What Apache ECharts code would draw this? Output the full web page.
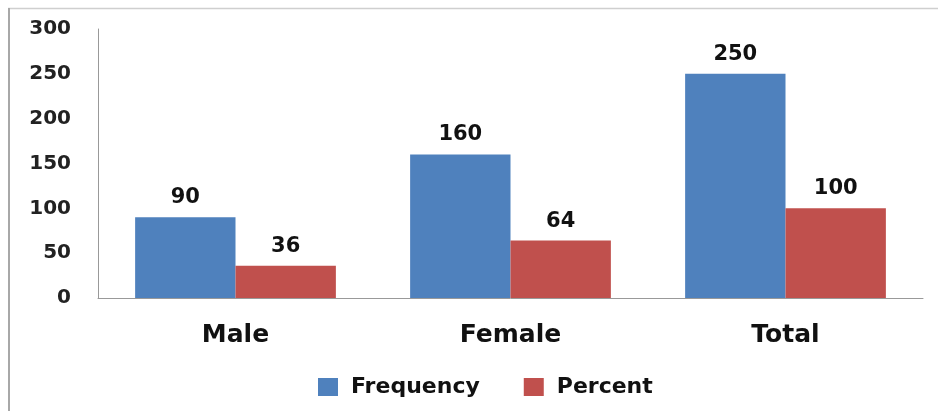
<!DOCTYPE html>
<html>
<head>
<meta charset="utf-8">
<script src="https://cdn.jsdelivr.net/npm/echarts@6/dist/echarts.min.js"></script>
<style>
  html, body { margin: 0; padding: 0; background: #fff; }
  #chart { width: 938px; height: 411px; }
</style>
</head>
<body>
<div id="chart"></div>
<script>
// Gender breakdown: counts and percentages
const categories = ['Male', 'Female', 'Total'];
const frequency = [90, 160, 250];
const percent = [36, 64, 100];
const seriesNames = ['Frequency', 'Percent'];

const font = 'DejaVu Sans';
const chart = echarts.init(document.getElementById('chart'));

const labelStyle = {
  show: true,
  position: 'top',
  distance: 9,
  fontFamily: font,
  fontWeight: 'bold',
  fontSize: 21,
  color: '#111'
};

chart.setOption({
  animation: false,
  backgroundColor: '#fff',
  graphic: [
    { type: 'line', shape: { x1: 8, y1: 8.5, x2: 938, y2: 8.5 }, style: { stroke: '#cfcfcf', lineWidth: 1.5 } },
    { type: 'line', shape: { x1: 9, y1: 8, x2: 9, y2: 411 }, style: { stroke: '#a8a8a8', lineWidth: 2 } }
  ],
  grid: { left: 98, right: 15, top: 29, bottom: 113 },
  legend: {
    data: seriesNames,
    left: 313,
    top: 371,
    itemWidth: 20,
    itemHeight: 18,
    itemGap: 44,
    icon: 'rect',
    textStyle: { fontFamily: font, fontWeight: 'bold', fontSize: 22, color: '#111', padding: [0, 0, 0, 8] }
  },
  xAxis: {
    type: 'category',
    data: categories,
    axisLine: { lineStyle: { color: '#999', width: 1 } },
    axisTick: { show: false },
    axisLabel: { fontFamily: font, fontWeight: 'bold', fontSize: 25, color: '#111', margin: 25 }
  },
  yAxis: {
    type: 'value',
    min: 0,
    max: 300,
    interval: 50,
    splitLine: { show: false },
    axisLine: { show: true, lineStyle: { color: '#999', width: 1 } },
    axisTick: { show: false },
    axisLabel: { fontFamily: font, fontWeight: 'bold', fontSize: 20, color: '#222', margin: 27 }
  },
  series: [
    {
      name: seriesNames[0], type: 'bar', data: frequency,
      barGap: '0%', barCategoryGap: '27%',
      itemStyle: { color: '#4F81BD' },
      label: labelStyle
    },
    {
      name: seriesNames[1], type: 'bar', data: percent,
      itemStyle: { color: '#C0504D' },
      label: labelStyle
    }
  ]
});
</script>
</body>
</html>
